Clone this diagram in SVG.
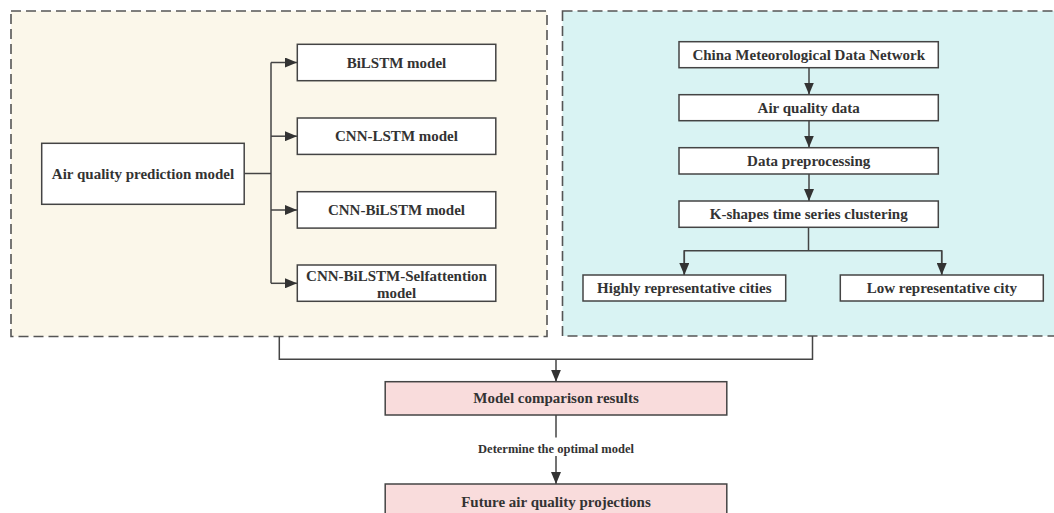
<svg xmlns="http://www.w3.org/2000/svg" width="1054" height="513" viewBox="0 0 1054 513">
<style>
.panel{stroke:#555;stroke-width:1.6;stroke-dasharray:10 5;}
.box{fill:#fff;stroke:#444;stroke-width:1.5;}
.pink{fill:#F9DCDC;stroke:#444;stroke-width:1.5;}
.t{font-family:"Liberation Serif","Times New Roman",serif;font-weight:bold;font-size:15px;fill:#333;text-anchor:middle;dominant-baseline:central;}
.s{font-size:12.5px;}
.c{fill:none;stroke:#444;stroke-width:1.5;}
</style>
<defs>
<marker id="ah" markerWidth="12" markerHeight="10" refX="12" refY="5" orient="auto" markerUnits="userSpaceOnUse">
<path d="M0,0 L12,5 L0,10 Z" fill="#333"/>
</marker>
</defs>
<rect width="1054" height="513" fill="#fff"/>
<g id="panel-left"><rect class="panel" x="11" y="11" width="536" height="325.5" fill="#FBF7EA"/></g>
<g id="panel-right"><rect class="panel" x="562.5" y="11" width="520" height="325" fill="#D9F3F3"/></g>

<g id="connectors">
<path class="c" d="M244,173.5 H271"/>
<path class="c" d="M271,62.5 V283.3"/>
<path class="c" d="M271,62.5 H297" marker-end="url(#ah)"/>
<path class="c" d="M271,136.2 H297" marker-end="url(#ah)"/>
<path class="c" d="M271,210 H297" marker-end="url(#ah)"/>
<path class="c" d="M271,283.3 H297" marker-end="url(#ah)"/>
<path class="c" d="M809,67.5 V94.5" marker-end="url(#ah)"/>
<path class="c" d="M809,120.5 V147.5" marker-end="url(#ah)"/>
<path class="c" d="M809,174 V201" marker-end="url(#ah)"/>
<path class="c" d="M808.5,227.3 V250.7"/>
<path class="c" d="M684.3,275 V250.7 H941.7 V275"/>
<path class="c" d="M684.3,250.7 V275" marker-end="url(#ah)"/>
<path class="c" d="M941.7,250.7 V275" marker-end="url(#ah)"/>
<path class="c" d="M279.3,336.5 V359.3 H812.5 V336"/>
<path class="c" d="M556,359.3 V381.7" marker-end="url(#ah)"/>
<path class="c" d="M556,415 V437.5"/>
<path class="c" d="M556,456 V484" marker-end="url(#ah)"/>
<text class="t s" x="556" y="448.5">Determine the optimal model</text>
</g>

<g id="n-aqpm"><rect class="box" x="41.7" y="143.3" width="202.5" height="61"/><text class="t" x="143" y="173.8">Air quality prediction model</text></g>
<g id="n-bilstm"><rect class="box" x="297.3" y="44.3" width="198.5" height="36.4"/><text class="t" x="396.5" y="62.5">BiLSTM model</text></g>
<g id="n-cnnlstm"><rect class="box" x="297.3" y="118" width="198.5" height="36.4"/><text class="t" x="396.5" y="136.2">CNN-LSTM model</text></g>
<g id="n-cnnbilstm"><rect class="box" x="297.3" y="191.7" width="198.5" height="36.4"/><text class="t" x="396.5" y="210">CNN-BiLSTM model</text></g>
<g id="n-selfatt"><rect class="box" x="297.3" y="265" width="198.5" height="36.3"/><text class="t" x="396.5" y="275.5">CNN-BiLSTM-Selfattention</text><text class="t" x="396.5" y="293">model</text></g>

<g id="n-china"><rect class="box" x="679" y="41.7" width="259.3" height="26"/><text class="t" x="808.7" y="54.7">China Meteorological Data Network</text></g>
<g id="n-aqdata"><rect class="box" x="679" y="94.7" width="259.3" height="26"/><text class="t" x="808.7" y="107.7">Air quality data</text></g>
<g id="n-prep"><rect class="box" x="679" y="147.7" width="259.3" height="26.3"/><text class="t" x="808.7" y="160.8">Data preprocessing</text></g>
<g id="n-kshapes"><rect class="box" x="679" y="201" width="259.3" height="26.3"/><text class="t" x="808.7" y="214.1">K-shapes time series clustering</text></g>
<g id="n-high"><rect class="box" x="583" y="275" width="202.7" height="26"/><text class="t" x="684.3" y="288">Highly representative cities</text></g>
<g id="n-low"><rect class="box" x="840.3" y="275" width="203" height="26"/><text class="t" x="941.8" y="288">Low representative city</text></g>

<g id="n-compare"><rect class="pink" x="385.2" y="381.7" width="341.6" height="33.3"/><text class="t" x="556" y="398.4">Model comparison results</text></g>
<g id="n-future"><rect class="pink" x="385.2" y="484" width="341.6" height="34"/><text class="t" x="556" y="501.5">Future air quality projections</text></g>
</svg>
